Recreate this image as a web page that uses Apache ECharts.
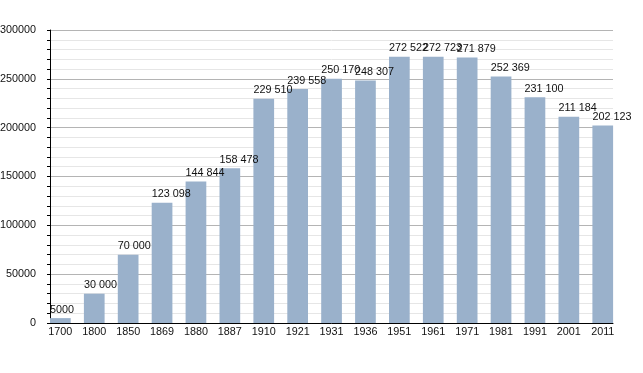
<!DOCTYPE html>
<html>
<head>
<meta charset="utf-8">
<script src="https://cdn.jsdelivr.net/npm/echarts@6/dist/echarts.min.js"></script>
<style>html,body{margin:0;padding:0;background:#fff;}#c{width:643px;height:373px;}</style>
</head>
<body>
<div id="c"></div>
<script>
const categories = ['1700','1800','1850','1869','1880','1887','1910','1921','1931','1936','1951','1961','1971','1981','1991','2001','2011'];
const population = [5000,30000,70000,123098,144844,158478,229510,239558,250170,248307,272522,272723,271879,252369,231100,211184,202123];
const valueLabels = ['5000','30 000','70 000','123 098','144 844','158 478','229 510','239 558','250 170','248 307','272 522','272 723','271 879','252 369','231 100','211 184','202 123'];
const yMin = 0, yMax = 300000, yStep = 50000;

const font = 'Liberation Sans, Arial, sans-serif';
const chart = echarts.init(document.getElementById('c'), null, {renderer:'canvas'});
chart.setOption({
  animation: false,
  backgroundColor: '#ffffff',
  grid: [
    {left: 43.4, right: 23.3, top: 30, bottom: 50, containLabel: false, outerBoundsMode: 'none'},
    {left: 50, right: 30, top: 30, bottom: 50, containLabel: false, outerBoundsMode: 'none'}
  ],
  xAxis: [
    {type: 'category', gridIndex: 0, data: categories, boundaryGap: true,
     axisLine: {show: false}, axisTick: {show: false},
     axisLabel: {color: '#111', fontSize: 10.8, fontFamily: font, margin: 4, interval: 0}},
    {type: 'value', gridIndex: 1, min: 0, max: 1,
     axisLine: {show: true, onZero: false, lineStyle: {color: '#000', width: 1}},
     axisTick: {show: false}, axisLabel: {show: false}, splitLine: {show: false}}
  ],
  yAxis: [
    {type: 'value', gridIndex: 0, min: yMin, max: yMax, interval: yStep, show: false, splitLine: {show: false}},
    {type: 'value', gridIndex: 1, min: yMin, max: yMax, interval: yStep,
     axisLine: {show: true, onZero: false, lineStyle: {color: '#000', width: 1}},
     axisTick: {show: true, length: 3, lineStyle: {color: '#000'}},
     minorTick: {show: true, splitNumber: 5, length: 3, lineStyle: {color: '#000'}},
     splitLine: {show: true, lineStyle: {color: '#b4b4b4', width: 1}},
     minorSplitLine: {show: true, lineStyle: {color: '#e6e6e6', width: 1}},
     axisLabel: {color: '#111', fontSize: 10.8, fontFamily: font, margin: 14, formatter: v => String(v)}}
  ],
  series: [{
    type: 'bar',
    xAxisIndex: 0, yAxisIndex: 0,
    data: population,
    barWidth: 20.7,
    itemStyle: {color: '#9ab1cb'},
    label: {
      show: true,
      position: [0, -3],
      align: 'left',
      verticalAlign: 'bottom',
      color: '#111',
      fontSize: 10.8,
      fontFamily: font,
      formatter: p => valueLabels[p.dataIndex]
    }
  }]
});
</script>
</body>
</html>
